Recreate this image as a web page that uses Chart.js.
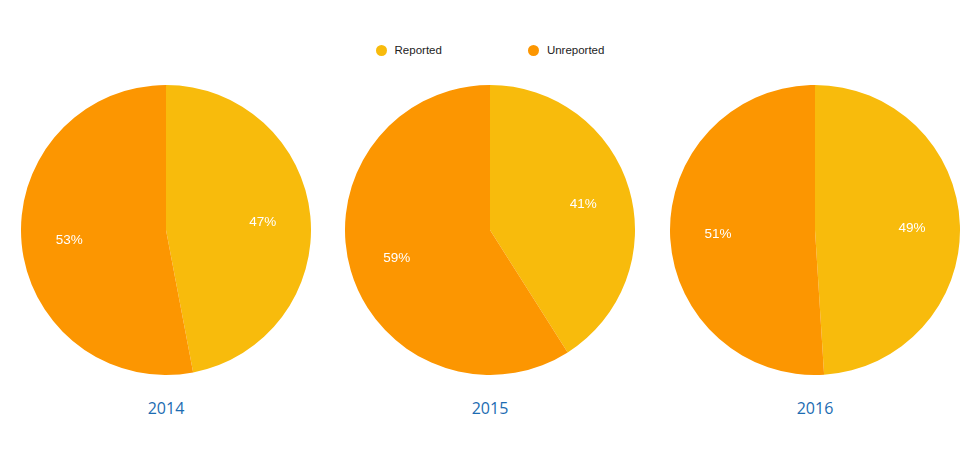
<!DOCTYPE html>
<html>
<head>
<meta charset="utf-8">
<script src="https://cdn.jsdelivr.net/npm/chart.js@4/dist/chart.umd.min.js"></script>
<style>
  html, body { margin: 0; padding: 0; background: #fff; }
  body { width: 980px; height: 459px; position: relative; overflow: hidden; }
  .legend {
    position: absolute; top: 44px; left: 0; width: 980px;
    display: flex; justify-content: center; gap: 86px;
    font: 11.5px "Liberation Sans", Arial, sans-serif; color: #222;
  }
  .legend span.item { display: flex; align-items: center; }
  .legend i { display: inline-block; width: 11px; height: 11px; border-radius: 50%; margin-right: 8px; }
  .pie { position: absolute; top: 85px; width: 290px; height: 290px; }
  .year {
    position: absolute; top: 397px; width: 200px; text-align: center;
    font: 16px "Open Sans", sans-serif; color: #1c6cb2;
  }
</style>
</head>
<body>
<div class="legend" id="legend"></div>

<script>
// Values (percent of cases)
const seriesLabels = ["Reported", "Unreported"];
const seriesColors = ["#f8bb0c", "#fc9601"];
const years = ["2014", "2015", "2016"];
const reported = [47, 41, 49];
const unreported = [53, 59, 51];
const pieCenters = [166, 490, 815];

// Percent labels placed inside each slice, about two thirds out from the centre.
const sliceLabels = {
  id: "sliceLabels",
  afterDatasetsDraw(chart) {
    const ctx = chart.ctx;
    const data = chart.data.datasets[0].data;
    const total = data.reduce((a, b) => a + b, 0);
    ctx.save();
    ctx.fillStyle = "#fff";
    ctx.font = '13.5px "Liberation Sans", Arial, sans-serif';
    ctx.textAlign = "center";
    ctx.textBaseline = "middle";
    chart.getDatasetMeta(0).data.forEach((arc, i) => {
      const p = arc.getProps(["x", "y", "startAngle", "endAngle", "outerRadius"], true);
      const mid = (p.startAngle + p.endAngle) / 2;
      const r = p.outerRadius * 0.67;
      const pct = Math.round((data[i] / total) * 100) + "%";
      ctx.fillText(pct, p.x + Math.cos(mid) * r, p.y + Math.sin(mid) * r + 1.5);
    });
    ctx.restore();
  },
};

const legend = document.getElementById("legend");
seriesLabels.forEach((name, i) => {
  const item = document.createElement("span");
  item.className = "item";
  item.innerHTML = `<i style="background:${seriesColors[i]}"></i>${name}`;
  legend.appendChild(item);
});

years.forEach((year, i) => {
  const box = document.createElement("div");
  box.className = "pie";
  box.style.left = (pieCenters[i] - 145) + "px";
  const canvas = document.createElement("canvas");
  box.appendChild(canvas);
  document.body.appendChild(box);

  const label = document.createElement("div");
  label.className = "year";
  label.style.left = (pieCenters[i] - 100) + "px";
  label.textContent = year;
  document.body.appendChild(label);

  new Chart(canvas.getContext("2d"), {
    type: "pie",
    data: {
      labels: seriesLabels,
      datasets: [{
        data: [reported[i], unreported[i]],
        backgroundColor: seriesColors,
        borderWidth: 0,
        hoverOffset: 0,
      }],
    },
    options: {
      responsive: true,
      maintainAspectRatio: false,
      animation: false,
      layout: { padding: 0 },
      plugins: { legend: { display: false }, tooltip: { enabled: false } },
    },
    plugins: [sliceLabels],
  });
});
</script>
</body>
</html>
